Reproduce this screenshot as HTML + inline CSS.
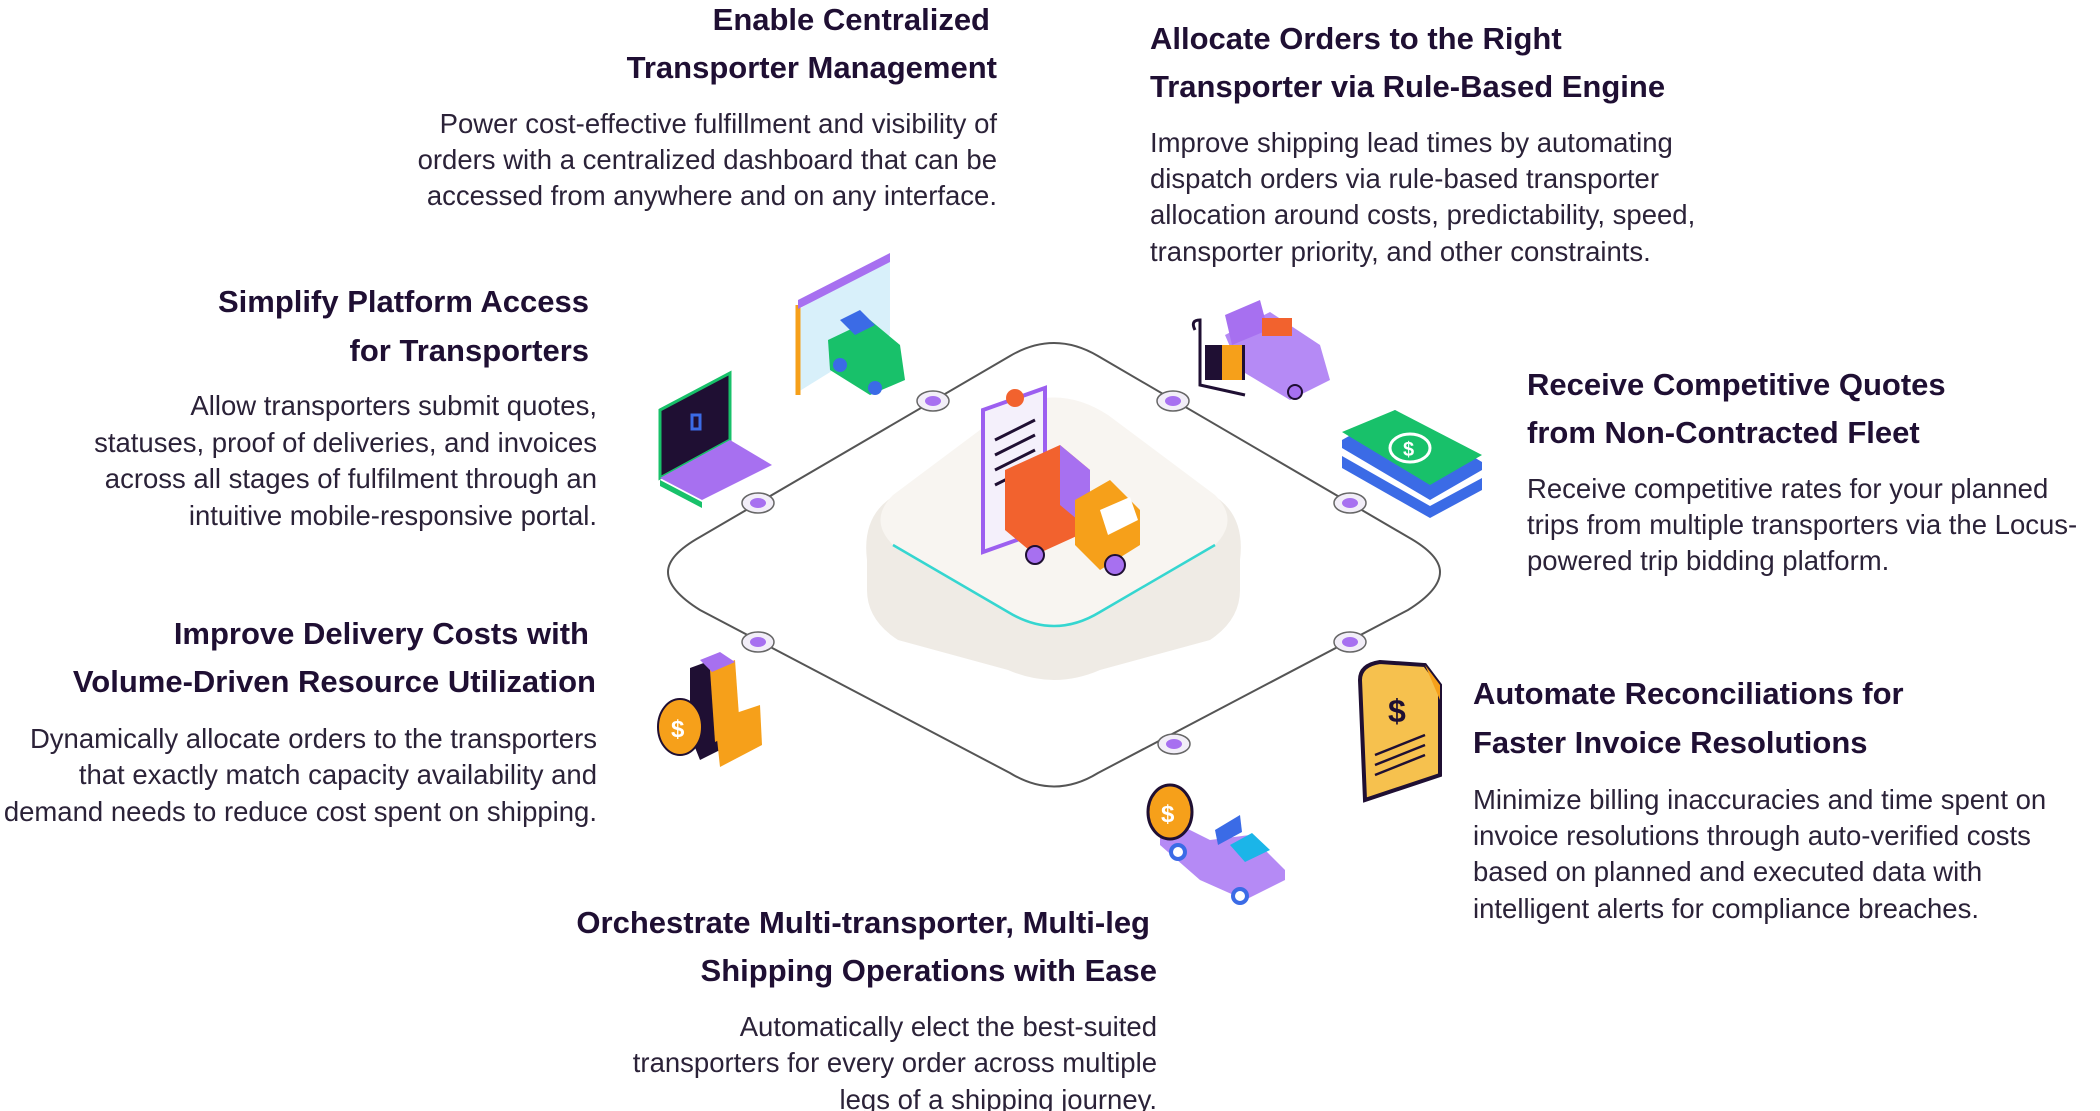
<!DOCTYPE html>
<html><head><meta charset="utf-8"><style>
html,body{margin:0;padding:0;background:#fff;}
svg{display:block;}
.h{font-family:"Liberation Sans",sans-serif;font-weight:bold;font-size:31px;fill:#1f0f33;}
.b{font-family:"Liberation Sans",sans-serif;font-size:27.5px;fill:#2b2238;}
</style></head><body>
<svg width="2100" height="1111" viewBox="0 0 2100 1111" xmlns="http://www.w3.org/2000/svg">
<!-- loop path -->
<path d="M1010,356 Q1054,330 1098,356 L1408,537 Q1440,555 1440,572 Q1440,590 1408,610 L1098,773 Q1054,800 1010,773 L700,610 Q668,590 668,572 Q668,555 700,537 Z" fill="none" stroke="#555" stroke-width="2"/>
<!-- platform -->
<path d="M1000,420 Q1054,385 1108,420 L1220,500 Q1245,520 1240,560 L1240,590 Q1240,620 1210,640 L1100,670 Q1054,690 1008,670 L898,640 Q867,620 867,590 L867,560 Q862,520 888,500 Z" fill="#efebe5"/>
<path d="M1000,415 Q1054,380 1108,415 L1215,495 Q1240,520 1215,545 L1100,612 Q1054,640 1008,612 L893,545 Q868,520 893,495 Z" fill="#f8f5f1"/>
<path d="M893,545 L1008,612 Q1054,640 1100,612 L1215,545" fill="none" stroke="#35d6d0" stroke-width="2.5"/>
<!-- nodes -->
<g fill="#f2eef8" stroke="#666" stroke-width="1.5">
<ellipse cx="933" cy="401" rx="16" ry="10"/><ellipse cx="1173" cy="401" rx="16" ry="10"/>
<ellipse cx="758" cy="503" rx="16" ry="10"/><ellipse cx="1350" cy="503" rx="16" ry="10"/>
<ellipse cx="758" cy="642" rx="16" ry="10"/><ellipse cx="1350" cy="642" rx="16" ry="10"/>
<ellipse cx="1174" cy="744" rx="16" ry="10"/></g>
<g fill="#a770f0">
<ellipse cx="933" cy="401" rx="8" ry="5"/><ellipse cx="1173" cy="401" rx="8" ry="5"/>
<ellipse cx="758" cy="503" rx="8" ry="5"/><ellipse cx="1350" cy="503" rx="8" ry="5"/>
<ellipse cx="758" cy="642" rx="8" ry="5"/><ellipse cx="1350" cy="642" rx="8" ry="5"/>
<ellipse cx="1174" cy="744" rx="8" ry="5"/></g>
<!-- center clipboard + truck -->
<polygon points="983,410 1045,388 1045,530 983,552" fill="#f4f0fb" stroke="#9c5ff0" stroke-width="4"/>
<g stroke="#1f0f33" stroke-width="3"><line x1="995" y1="440" x2="1035" y2="420"/><line x1="995" y1="455" x2="1035" y2="435"/><line x1="995" y1="470" x2="1035" y2="450"/><line x1="995" y1="485" x2="1035" y2="465"/></g>
<circle cx="1015" cy="398" r="9" fill="#f2622e"/>
<polygon points="1005,470 1060,445 1090,470 1090,530 1035,555 1005,530" fill="#f2622e"/>
<polygon points="1060,445 1090,470 1090,530 1060,505" fill="#a770f0"/>
<polygon points="1075,500 1110,480 1140,510 1140,545 1100,570 1075,545" fill="#f6a01a"/>
<polygon points="1100,510 1130,497 1138,520 1108,535" fill="#fff"/>
<circle cx="1035" cy="555" r="9" fill="#a770f0" stroke="#1f0f33" stroke-width="2"/><circle cx="1115" cy="565" r="10" fill="#a770f0" stroke="#1f0f33" stroke-width="2"/>
<!-- browser green truck -->
<polygon points="798,310 890,253 890,335 798,392" fill="#d8f0fa"/>
<line x1="798" y1="305" x2="798" y2="395" stroke="#f6a01a" stroke-width="5"/>
<polygon points="798,300 890,253 890,262 798,309" fill="#a770f0"/>
<polygon points="828,340 870,320 900,345 905,380 870,395 830,370" fill="#18c16a"/>
<polygon points="840,320 860,310 875,325 855,335" fill="#3b6be6"/>
<circle cx="840" cy="365" r="7" fill="#3b6be6"/><circle cx="875" cy="388" r="7" fill="#3b6be6"/>
<!-- laptop -->
<polygon points="660,410 730,373 730,440 660,478" fill="#1f0f33" stroke="#18c16a" stroke-width="3"/>
<polygon points="660,478 730,440 772,465 702,500" fill="#a770f0"/>
<polygon points="660,480 702,502 702,508 660,486" fill="#18c16a"/>
<rect x="692" y="415" width="8" height="14" fill="none" stroke="#3b6be6" stroke-width="3"/>
<!-- top-right purple truck -->
<polygon points="1225,335 1270,312 1320,345 1330,380 1290,400 1240,370" fill="#b58af5"/>
<polygon points="1225,315 1260,300 1268,330 1232,345" fill="#a770f0"/>
<rect x="1262" y="318" width="30" height="18" fill="#f2622e"/>
<rect x="1205" y="345" width="40" height="35" fill="#1f0f33"/><rect x="1222" y="345" width="20" height="35" fill="#f6a01a"/>
<path d="M1195,330 Q1190,320 1200,320 L1200,385 L1245,395" fill="none" stroke="#1f0f33" stroke-width="3"/>
<circle cx="1295" cy="392" r="7" fill="#a770f0" stroke="#1f0f33" stroke-width="2"/>
<!-- money -->
<polygon points="1342,440 1395,410 1482,462 1482,490 1430,518 1342,468" fill="#3b6be6"/>
<polygon points="1342,448 1430,500 1482,470 1482,478 1430,506 1342,456" fill="#fff"/>
<polygon points="1342,432 1395,410 1482,455 1430,485" fill="#18c16a"/>
<ellipse cx="1410" cy="448" rx="20" ry="14" fill="none" stroke="#fff" stroke-width="3"/>
<text x="1403" y="456" font-family="Liberation Sans" font-weight="bold" font-size="20" fill="#fff">$</text>
<!-- boxes with coin -->
<polygon points="690,668 720,657 730,680 730,745 700,760 690,735" fill="#1f0f33"/>
<polygon points="710,670 735,660 740,730 715,742" fill="#f6a01a"/>
<polygon points="715,720 760,705 762,745 720,767" fill="#f6a01a"/>
<polygon points="700,660 720,652 735,662 712,672" fill="#a770f0"/>
<ellipse cx="680" cy="727" rx="22" ry="28" fill="#f6a01a" stroke="#1f0f33" stroke-width="2"/>
<text x="671" y="737" font-family="Liberation Sans" font-weight="bold" font-size="24" fill="#fff">$</text>
<!-- invoice doc -->
<path d="M1360,680 Q1360,665 1380,662 L1425,665 L1440,685 L1440,775 L1365,800 Z" fill="#f6c14e" stroke="#1f0f33" stroke-width="4"/>
<polygon points="1425,665 1440,685 1440,700" fill="#f6a01a"/>
<text x="1388" y="722" font-family="Liberation Sans" font-weight="bold" font-size="32" fill="#1f0f33">$</text>
<g stroke="#1f0f33" stroke-width="2.5"><line x1="1375" y1="755" x2="1425" y2="735"/><line x1="1375" y1="765" x2="1425" y2="745"/><line x1="1375" y1="775" x2="1425" y2="755"/></g>
<!-- bottom truck coin -->
<polygon points="1160,815 1210,840 1250,835 1285,870 1285,880 1245,900 1200,880 1160,845" fill="#b58af5"/>
<polygon points="1230,845 1252,833 1270,850 1245,862" fill="#1bb5e8"/>
<polygon points="1215,830 1240,815 1242,832 1218,845" fill="#3b6be6"/>
<ellipse cx="1170" cy="812" rx="22" ry="27" fill="#f6a01a" stroke="#1f0f33" stroke-width="3"/>
<text x="1161" y="822" font-family="Liberation Sans" font-weight="bold" font-size="24" fill="#fff">$</text>
<circle cx="1178" cy="852" r="7" fill="#fff" stroke="#3b6be6" stroke-width="4"/><circle cx="1240" cy="896" r="7" fill="#fff" stroke="#3b6be6" stroke-width="4"/>
<!-- texts -->
<g transform="translate(-6,0)">
<g class="h" text-anchor="end">
<text x="996" y="30">Enable Centralized</text><text x="1003" y="78">Transporter Management</text>
<text x="595" y="312">Simplify Platform Access</text><text x="595" y="361">for Transporters</text>
<text x="595" y="644">Improve Delivery Costs with</text><text x="602" y="692">Volume-Driven Resource Utilization</text>
<text x="1156" y="933">Orchestrate Multi-transporter, Multi-leg</text><text x="1163" y="981">Shipping Operations with Ease</text>
</g>
<g class="h">
<text x="1156" y="49">Allocate Orders to the Right</text><text x="1156" y="97">Transporter via Rule-Based Engine</text>
<text x="1533" y="395">Receive Competitive Quotes</text><text x="1533" y="443">from Non-Contracted Fleet</text>
<text x="1479" y="704">Automate Reconciliations for</text><text x="1479" y="753">Faster Invoice Resolutions</text>
</g>
<g class="b" text-anchor="end">
<text x="1003" y="133">Power cost-effective fulfillment and visibility of</text>
<text x="1003" y="169">orders with a centralized dashboard that can be</text>
<text x="1003" y="205">accessed from anywhere and on any interface.</text>
<text x="603" y="415">Allow transporters submit quotes,</text>
<text x="603" y="452">statuses, proof of deliveries, and invoices</text>
<text x="603" y="488">across all stages of fulfilment through an</text>
<text x="603" y="525">intuitive mobile-responsive portal.</text>
<text x="603" y="748">Dynamically allocate orders to the transporters</text>
<text x="603" y="784">that exactly match capacity availability and</text>
<text x="603" y="821">demand needs to reduce cost spent on shipping.</text>
<text x="1163" y="1036">Automatically elect the best-suited</text>
<text x="1163" y="1072">transporters for every order across multiple</text>
<text x="1163" y="1109">legs of a shipping journey.</text>
</g>
<g class="b">
<text x="1156" y="152">Improve shipping lead times by automating</text>
<text x="1156" y="188">dispatch orders via rule-based transporter</text>
<text x="1156" y="224">allocation around costs, predictability, speed,</text>
<text x="1156" y="261">transporter priority, and other constraints.</text>
<text x="1533" y="498">Receive competitive rates for your planned</text>
<text x="1533" y="534">trips from multiple transporters via the Locus-</text>
<text x="1533" y="570">powered trip bidding platform.</text>
<text x="1479" y="809">Minimize billing inaccuracies and time spent on</text>
<text x="1479" y="845">invoice resolutions through auto-verified costs</text>
<text x="1479" y="881">based on planned and executed data with</text>
<text x="1479" y="918">intelligent alerts for compliance breaches.</text>
</g>
</g>
</svg>
</body></html>
